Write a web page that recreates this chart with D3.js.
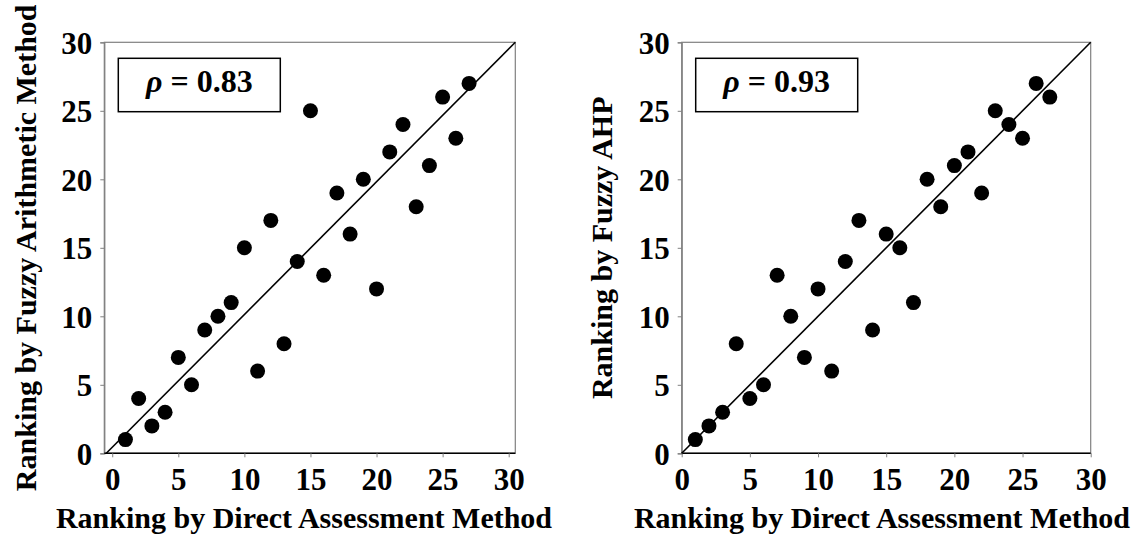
<!DOCTYPE html>
<html>
<head>
<meta charset="utf-8">
<script src="https://cdn.jsdelivr.net/npm/d3@7"></script>
<style>
  body { margin: 0; background: #fff; }
</style>
</head>
<body>
<div id="chart"></div>
<script>
// Rank comparison data (x = direct assessment rank)
const directRank = [1, 2, 3, 4, 5, 6, 7, 8, 9, 10, 11, 12, 13, 14, 15, 16, 17, 18, 19, 20, 21, 22, 23, 24, 25, 26, 27];
const arithRank = [1, 4, 2, 3, 7, 5, 9, 10, 11, 15, 6, 17, 8, 14, 25, 13, 19, 16, 20, 12, 22, 24, 18, 21, 26, 23, 27];
const ahpRank = [1, 2, 3, 8, 4, 5, 13, 10, 7, 12, 6, 14, 17, 9, 16, 15, 11, 20, 18, 21, 22, 19, 25, 24, 23, 27, 26];
const tickValues = [0, 5, 10, 15, 20, 25, 30];
const diagLeft = [[-0.45, 0], [30.5, 30]];
const diagRight = [[0, 0], [30, 30]];
const rhoValues = ['0.83', '0.93'];

// pick the first serif face that is really installed
const ctx = document.createElement('canvas').getContext('2d');
function widthOf(font) { ctx.font = font; return ctx.measureText('Ranking by Direct 0123').width; }
const candidates = ['Liberation Serif', 'Times New Roman', 'Tinos', 'DejaVu Serif', 'Noto Serif', 'FreeSerif', 'Nimbus Roman', 'Times'];
const found = candidates.filter(c =>
    widthOf(`bold 30px "${c}", monospace`) !== widthOf('bold 30px monospace') ||
    widthOf(`bold 30px "${c}", sans-serif`) !== widthOf('bold 30px sans-serif'));
const serif = (found.length ? found.map(f => `"${f}"`).join(', ') + ', ' : '') + 'serif';

const W = 1139, H = 540;
const svg = d3.select('#chart').append('svg')
    .attr('width', W)
    .attr('height', H)
    .attr('font-family', serif)
    .attr('font-weight', 'bold');

const panels = [
    { ys: arithRank, rho: rhoValues[0], diag: diagLeft, xDomain: [-0.6, 30.5],
      left: 104.3, right: 515.3, yTitle: 'Ranking by Fuzzy Arithmetic Method', yTitleX: 36, xTitleX: 304 },
    { ys: ahpRank, rho: rhoValues[1], diag: diagRight, xDomain: [0, 30],
      left: 681.7, right: 1090.7, yTitle: 'Ranking by Fuzzy AHP', yTitleX: 612, xTitleX: 882 }
];
const plotTop = 42.3, plotBottom = 453.3;

panels.forEach(p => {
    const x = d3.scaleLinear().domain(p.xDomain).range([p.left, p.right]);
    const y = d3.scaleLinear().domain([0, 30]).range([plotBottom, plotTop]);
    const g = svg.append('g');

    // plot area border
    g.append('rect')
        .attr('x', p.left).attr('y', plotTop)
        .attr('width', p.right - p.left).attr('height', plotBottom - plotTop)
        .attr('fill', 'none').attr('stroke', '#808080').attr('stroke-width', 1.2);

    // y axis
    const yAxis = g.append('g')
        .attr('transform', `translate(${p.left},0)`)
        .call(d3.axisLeft(y).tickValues(tickValues).tickSize(4).tickPadding(8))
        .attr('font-family', serif);
    yAxis.select('.domain').attr('stroke', '#808080').attr('stroke-width', 1.2);
    yAxis.selectAll('.tick line').attr('stroke', '#808080');
    yAxis.selectAll('.tick text')
        .attr('font-size', 31)
        .attr('dy', '0.36em');

    // x axis
    const xAxis = g.append('g')
        .attr('transform', `translate(0,${plotBottom})`)
        .call(d3.axisBottom(x).tickValues(tickValues).tickSize(4).tickPadding(10))
        .attr('font-family', serif);
    xAxis.select('.domain').attr('stroke', '#000').attr('stroke-width', 1.5)
        .attr('d', `M${p.left},0H${p.right}`);
    xAxis.selectAll('.tick line').attr('stroke', '#808080');
    xAxis.selectAll('.tick text')
        .attr('font-size', 31)
        .attr('dy', '0.72em');

    // diagonal reference line
    g.append('line')
        .attr('x1', x(p.diag[0][0])).attr('y1', y(p.diag[0][1]))
        .attr('x2', x(p.diag[1][0])).attr('y2', y(p.diag[1][1]))
        .attr('stroke', '#000').attr('stroke-width', 1.6);

    // points
    g.selectAll('circle.pt')
        .data(directRank.map((d, i) => [d, p.ys[i]]))
        .join('circle')
        .attr('class', 'pt')
        .attr('cx', d => x(d[0]))
        .attr('cy', d => y(d[1]))
        .attr('r', 7.5)
        .attr('fill', '#000');

    // correlation box
    g.append('rect')
        .attr('x', p.left + 14).attr('y', 58.3)
        .attr('width', 162).attr('height', 53.4)
        .attr('fill', '#fff').attr('stroke', '#000').attr('stroke-width', 1.5);
    const t = g.append('text')
        .attr('x', p.left + 14 + 81).attr('y', 92)
        .attr('text-anchor', 'middle')
        .attr('font-size', 32);
    t.append('tspan').attr('font-style', 'italic').text('ρ');
    t.append('tspan').text(' = ' + p.rho);

    // axis titles
    g.append('text')
        .attr('x', p.xTitleX).attr('y', 528)
        .attr('text-anchor', 'middle')
        .attr('font-size', 30)
        .text('Ranking by Direct Assessment Method');
    g.append('text')
        .attr('transform', `translate(${p.yTitleX},${(plotTop + plotBottom) / 2}) rotate(-90)`)
        .attr('text-anchor', 'middle')
        .attr('font-size', 30)
        .text(p.yTitle);
});
</script>
</body>
</html>
